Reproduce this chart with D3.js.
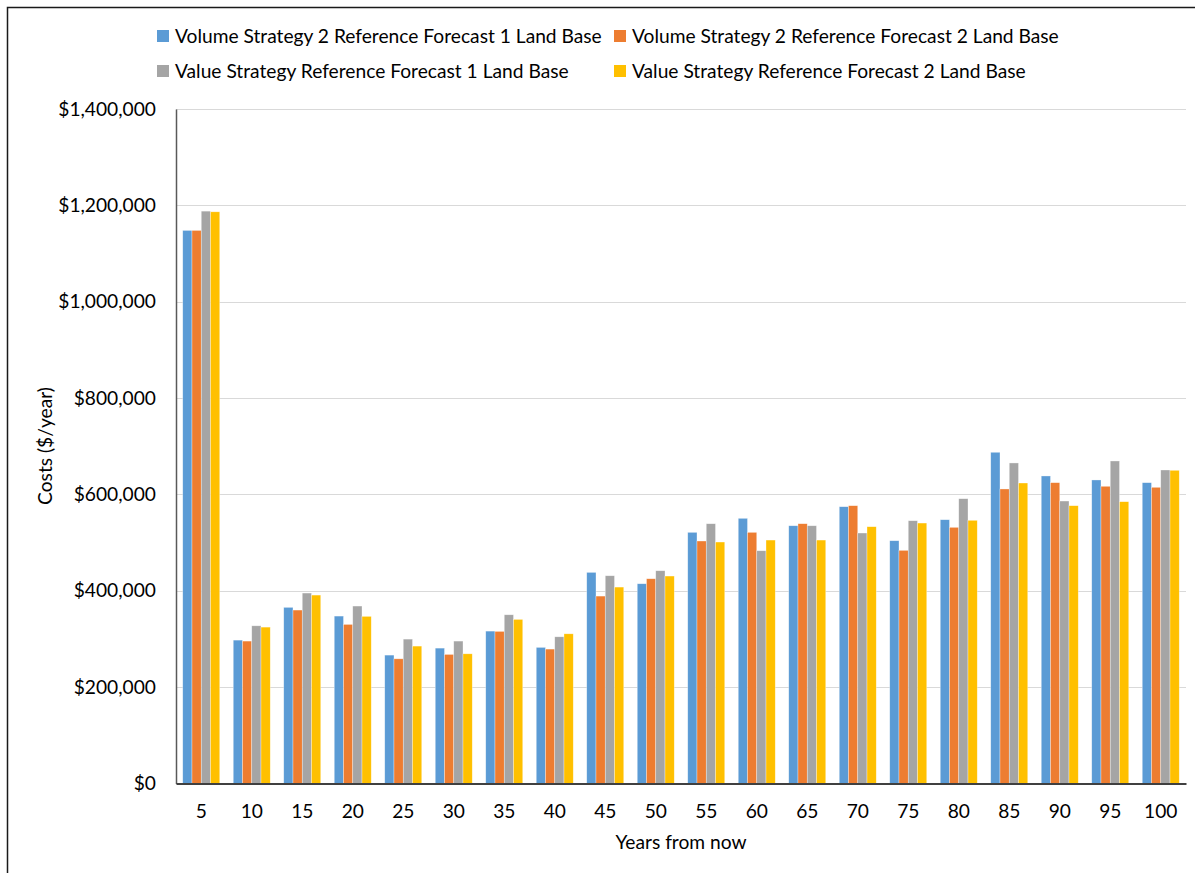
<!DOCTYPE html>
<html>
<head>
<meta charset="utf-8">
<script src="https://cdn.jsdelivr.net/npm/d3@7"></script>
<style>
  html, body { margin: 0; padding: 0; background: #fff; }
  svg { display: block; font-family: Lato, "Open Sans", sans-serif; }
</style>
</head>
<body>
<svg id="chart" width="1195" height="873"></svg>
<script>
// Years from now (category axis)
const years = ["5","10","15","20","25","30","35","40","45","50","55","60","65","70","75","80","85","90","95","100"];

// Series names and colours
const seriesNames = [
  "Volume Strategy 2 Reference Forecast 1 Land Base",
  "Volume Strategy 2 Reference Forecast 2 Land Base",
  "Value Strategy Reference Forecast 1 Land Base",
  "Value Strategy Reference Forecast 2 Land Base"
];
const seriesColors = ["#5B9BD5", "#ED7D31", "#A5A5A5", "#FFC000"];

// Costs ($/year) per series
const volume2Forecast1 = [1148000, 297600, 365600, 347500, 266500, 281000, 316300, 282500, 438200, 414600,
                          521300, 550400, 535000, 574500, 503900, 547500, 687500, 638300, 630000, 624400];
const volume2Forecast2 = [1148000, 295600, 360000, 330200, 258800, 267900, 315700, 279000, 389000, 425000,
                          503300, 521300, 539200, 576600, 483900, 531700, 611300, 624400, 616900, 614800];
const valueForecast1   = [1188000, 327300, 395300, 368300, 299700, 295600, 350200, 304500, 431200, 441600,
                          539200, 483100, 535000, 519900, 545400, 591100, 665300, 586300, 669400, 650700];
const valueForecast2   = [1186600, 324600, 391100, 346900, 285200, 269200, 340600, 310700, 407700, 430600,
                          501200, 505300, 505300, 533000, 540600, 546300, 623700, 576600, 584900, 650100];

// Y-axis ticks
const yTicks = [0, 200000, 400000, 600000, 800000, 1000000, 1200000, 1400000];

const seriesValues = [volume2Forecast1, volume2Forecast2, valueForecast1, valueForecast2];

const FONT = "Lato, 'Open Sans', sans-serif";
const FS = 19.2;

const svg = d3.select("#chart");

// Outer chart frame
svg.append("rect")
  .attr("x", 7.5).attr("y", 7.5)
  .attr("width", 1200).attr("height", 900)
  .attr("fill", "none").attr("stroke", "#1a1a1a").attr("stroke-width", 1.5);

const plot = { left: 176, right: 1186, top: 109, bottom: 783.5 };

const x = d3.scaleBand()
  .domain(years)
  .range([plot.left, plot.right])
  .paddingInner(0.267)
  .paddingOuter(0.1335);

const xs = d3.scaleBand()
  .domain(d3.range(seriesNames.length))
  .range([0, x.bandwidth()]);

const y = d3.scaleLinear()
  .domain([0, 1400000])
  .range([plot.bottom, plot.top]);

// Gridlines
svg.append("g")
  .selectAll("line")
  .data(yTicks.filter(d => d > 0))
  .join("line")
  .attr("x1", plot.left).attr("x2", plot.right)
  .attr("y1", d => Math.round(y(d)) + 0.5).attr("y2", d => Math.round(y(d)) + 0.5)
  .attr("stroke", "#d9d9d9").attr("stroke-width", 1.2);

// Bars
const groups = svg.append("g")
  .selectAll("g")
  .data(years)
  .join("g")
  .attr("transform", d => `translate(${x(d)},0)`);

groups.selectAll("rect")
  .data((d, i) => seriesValues.map((s, k) => ({ k, v: s[i] })))
  .join("rect")
  .attr("x", d => xs(d.k))
  .attr("width", xs.bandwidth())
  .attr("y", d => y(d.v))
  .attr("height", d => y(0) - y(d.v))
  .attr("fill", d => seriesColors[d.k])
  .attr("stroke", "#ffffff").attr("stroke-opacity", 0.55).attr("stroke-width", 0.6);

// Y axis
const yAxis = d3.axisLeft(y)
  .tickValues(yTicks)
  .tickSize(0)
  .tickPadding(20)
  .tickFormat(d => "$" + d3.format(",")(d));

const gy = svg.append("g")
  .attr("transform", `translate(${plot.left},0)`)
  .call(yAxis)
  .attr("font-family", FONT).attr("font-size", FS);
gy.select(".domain").attr("stroke", "#595959").attr("stroke-width", 1.5);
gy.selectAll("text").attr("fill", "#000");

// X axis
const xAxis = d3.axisBottom(x).tickSize(0).tickPadding(21);
const gx = svg.append("g")
  .attr("transform", `translate(0,${plot.bottom})`)
  .call(xAxis)
  .attr("font-family", FONT).attr("font-size", FS);
gx.select(".domain").attr("stroke", "#404040").attr("stroke-width", 2);
gx.selectAll("text").attr("fill", "#000").attr("dy", "0.35em").attr("y", 28);

// Axis titles
svg.append("text")
  .attr("x", 681).attr("y", 842)
  .attr("dy", "0.35em")
  .attr("text-anchor", "middle")
  .attr("font-size", FS).attr("fill", "#000")
  .text("Years from now");

svg.append("text")
  .attr("transform", "translate(45,446) rotate(-90)")
  .attr("dy", "0.35em")
  .attr("text-anchor", "middle")
  .attr("font-size", FS).attr("fill", "#000")
  .text("Costs ($/year)");

// Legend
const legendPos = [[157, 36], [614, 36], [157, 71], [614, 71]];
const legend = svg.append("g")
  .selectAll("g")
  .data(seriesNames)
  .join("g")
  .attr("transform", (d, i) => `translate(${legendPos[i][0]},${legendPos[i][1]})`);

legend.append("rect")
  .attr("x", 0).attr("y", -6)
  .attr("width", 12).attr("height", 12)
  .attr("fill", (d, i) => seriesColors[i]);

legend.append("text")
  .attr("x", 18).attr("y", 0)
  .attr("dy", "0.35em")
  .attr("font-size", FS).attr("fill", "#000")
  .text(d => d);
</script>
</body>
</html>
